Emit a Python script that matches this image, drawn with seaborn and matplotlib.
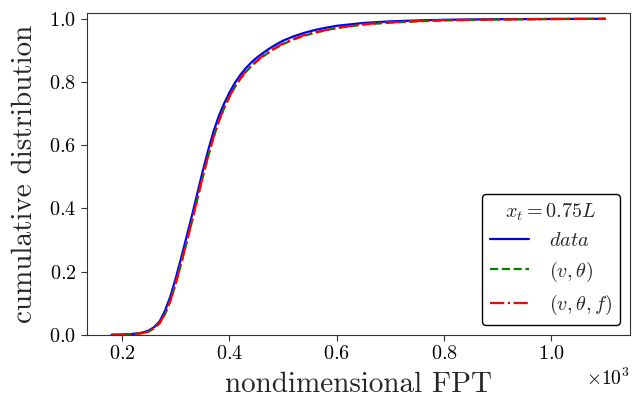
import numpy as np
import pandas as pd
import matplotlib
matplotlib.use("Agg")
import matplotlib.pyplot as plt
import seaborn as sns

# nondimensional FPT (raw units; axis shows x10^3)
fpt = [180, 190, 200, 210, 220, 230, 240, 250, 260, 270, 280, 290, 300, 310,
       320, 330, 340, 350, 360, 370, 380, 390, 400, 410, 420, 430, 440, 450,
       460, 470, 480, 490, 500, 520, 540, 560, 580, 600, 650, 700, 750, 800,
       900, 1000, 1100]
cdf_data = [0.0, 0.0003, 0.001, 0.002, 0.003, 0.005, 0.008, 0.014, 0.025,
            0.043, 0.077, 0.122, 0.18, 0.244, 0.31, 0.377, 0.447, 0.517, 0.582,
            0.642, 0.692, 0.732, 0.767, 0.797, 0.822, 0.843, 0.861, 0.876,
            0.889, 0.901, 0.912, 0.922, 0.931, 0.945, 0.956, 0.965, 0.972,
            0.978, 0.987, 0.992, 0.995, 0.997, 0.999, 0.9995, 1.0]
cdf_vtheta = [0.0, 0.0002, 0.0007, 0.0015, 0.0025, 0.004, 0.006, 0.011, 0.021,
              0.037, 0.066, 0.108, 0.163, 0.226, 0.291, 0.358, 0.428, 0.498,
              0.563, 0.623, 0.674, 0.717, 0.753, 0.784, 0.809, 0.831, 0.849,
              0.864, 0.878, 0.89, 0.901, 0.911, 0.92, 0.935, 0.947, 0.956,
              0.964, 0.971, 0.982, 0.988, 0.992, 0.995, 0.998, 0.9995, 1.0]
cdf_vthetaf = [0.0, 0.0002, 0.0007, 0.0015, 0.0025, 0.004, 0.006, 0.011, 0.022,
               0.038, 0.067, 0.109, 0.164, 0.227, 0.293, 0.36, 0.43, 0.5,
               0.565, 0.625, 0.676, 0.719, 0.755, 0.786, 0.811, 0.833, 0.851,
               0.866, 0.88, 0.892, 0.903, 0.913, 0.922, 0.937, 0.949, 0.958,
               0.965, 0.972, 0.983, 0.989, 0.993, 0.996, 0.998, 0.9995, 1.0]
labels = [r"$data$", r"$(v,\theta)$", r"$(v,\theta,f)$"]
legend_title = r"$x_t=0.75L$"

sns.set_style("ticks")
plt.rcParams.update({
    "font.family": "serif",
    "font.serif": ["cmr10", "DejaVu Serif"],
    "mathtext.fontset": "cm",
    "axes.formatter.use_mathtext": True,
    "axes.unicode_minus": False,
    "axes.edgecolor": "#333333",
    "xtick.color": "#333333",
    "ytick.color": "#333333",
    "xtick.labelcolor": "black",
    "ytick.labelcolor": "black",
})

fig = plt.figure(figsize=(6.33, 4.01), dpi=100)
ax = fig.add_axes([0.137, 0.165, 0.858, 0.803])

df = pd.DataFrame({"fpt": fpt, "data": cdf_data, "vt": cdf_vtheta, "vtf": cdf_vthetaf})
sns.lineplot(data=df, x="fpt", y="data", ax=ax, color="blue", lw=1.6, label=labels[0])
sns.lineplot(data=df, x="fpt", y="vt", ax=ax, color="green", lw=1.6,
             linestyle="--", label=labels[1])
sns.lineplot(data=df, x="fpt", y="vtf", ax=ax, color="red", lw=1.6,
             linestyle="-.", label=labels[2])

ax.set_xlim(134, 1146)
ax.set_ylim(0, 1.019)
ax.set_yticks([0, 0.2, 0.4, 0.6, 0.8, 1.0])
ax.set_xticks([200, 400, 600, 800, 1000])
ax.ticklabel_format(axis="x", style="sci", scilimits=(3, 3))
ax.tick_params(labelsize=14.5, length=4)
ax.xaxis.get_offset_text().set_fontsize(14)
ax.set_xlabel("nondimensional FPT", fontsize=21, labelpad=6)
ax.set_ylabel("cumulative distribution", fontsize=21, labelpad=8)

leg = ax.legend(title=legend_title, loc="lower right", fontsize=14.5,
                title_fontsize=14.5, frameon=True, fancybox=True, framealpha=1,
                edgecolor="black", handlelength=1.9, labelspacing=0.45,
                handletextpad=1.0)
leg.get_frame().set_linewidth(1.0)

fig.savefig("out.png", dpi=100)
